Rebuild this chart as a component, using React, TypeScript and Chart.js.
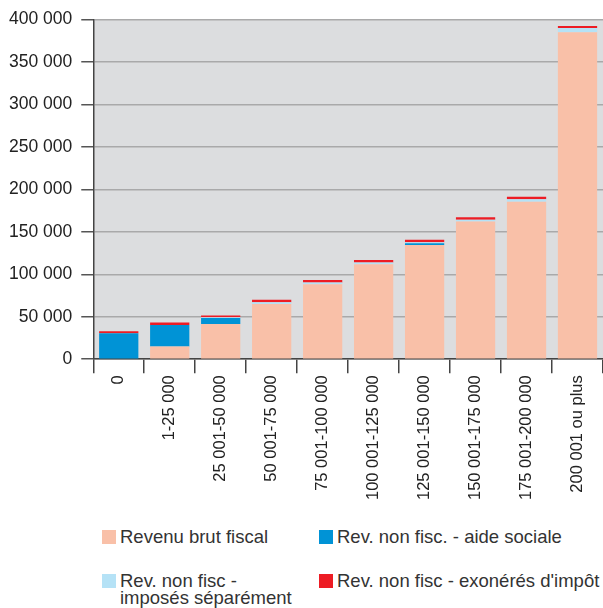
import React, { useEffect, useRef } from "react";
import { Chart, registerables } from "chart.js";

Chart.register(...registerables);

const categories = [
  "0",
  "1-25 000",
  "25 001-50 000",
  "50 001-75 000",
  "75 001-100 000",
  "100 001-125 000",
  "125 001-150 000",
  "150 001-175 000",
  "175 001-200 000",
  "200 001 ou plus",
];

const revenuBrutFiscal = [0, 15000, 41400, 65000, 88300, 111800, 134500, 162200, 185300, 385100];
const aideSociale = [30500, 25300, 7000, 0, 0, 0, 2000, 0, 0, 0];
const imposesSeparement = [0, 0, 1000, 2000, 2000, 2000, 1200, 2000, 3000, 5000];
const exoneres = [2500, 3000, 2200, 3000, 3000, 3000, 3000, 3000, 3000, 2300];

const yTicks = [0, 50000, 100000, 150000, 200000, 250000, 300000, 350000, 400000];

const legendItems = [
  { label: "Revenu brut fiscal", color: "#f9c0a8" },
  { label: "Rev. non fisc. - aide sociale", color: "#0093d6" },
  { label: "Rev. non fisc -\nimposés séparément", color: "#b5e2f6" },
  { label: "Rev. non fisc - exonérés d'impôt", color: "#ed1c24" },
];

const fmt = (v: number) => {
  const s = String(Math.round(v));
  return s.replace(/\B(?=(\d{3})+(?!\d))/g, " ");
};

const bgPlugin = {
  id: "plotBg",
  beforeDraw(chart: any) {
    const { ctx, chartArea } = chart;
    if (!chartArea) return;
    ctx.save();
    ctx.fillStyle = "#dcdddf";
    ctx.fillRect(chartArea.left, chartArea.top, chartArea.right - chartArea.left, chartArea.bottom - chartArea.top);
    ctx.restore();
  },
};

export default function App() {
  const ref = useRef<HTMLCanvasElement | null>(null);

  useEffect(() => {
    if (!ref.current) return;
    const font = "'Liberation Sans', Arial, sans-serif";
    const chart = new Chart(ref.current, {
      type: "bar",
      data: {
        labels: categories,
        datasets: [
          { label: legendItems[0].label, data: revenuBrutFiscal, backgroundColor: legendItems[0].color },
          { label: legendItems[1].label, data: aideSociale, backgroundColor: legendItems[1].color },
          { label: legendItems[2].label, data: imposesSeparement, backgroundColor: legendItems[2].color },
          { label: legendItems[3].label, data: exoneres, backgroundColor: legendItems[3].color },
        ],
      },
      options: {
        animation: false,
        responsive: false,
        maintainAspectRatio: false,
        layout: { padding: { top: 4, right: 0, left: 0, bottom: 0 } },
        datasets: { bar: { barPercentage: 0.77, categoryPercentage: 1 } },
        plugins: { legend: { display: false }, tooltip: { enabled: false } },
        scales: {
          x: {
            stacked: true,
            grid: {
              offset: true,
              drawOnChartArea: false,
              drawTicks: true,
              tickLength: 14,
              tickColor: "#444",
              lineWidth: 1.5,
            },
            border: { color: "#444", width: 1.5 },
            ticks: {
              minRotation: 90,
              maxRotation: 90,
              autoSkip: false,
              padding: 2,
              color: "#222",
              font: { family: font, size: 16.5 },
            },
          },
          y: {
            stacked: true,
            min: 0,
            max: 400000,
            afterBuildTicks: (axis: any) => {
              axis.ticks = yTicks.map((v) => ({ value: v }));
            },
            grid: {
              color: "#a9a9aa",
              lineWidth: 1.5,
              drawTicks: true,
              tickLength: 12,
              tickColor: "#555",
            },
            border: { color: "#444", width: 1.5 },
            ticks: {
              padding: 9,
              color: "#222",
              font: { family: font, size: 17.5 },
              callback: (v: any) => fmt(Number(v)),
            },
          },
        },
      },
      plugins: [bgPlugin],
    });
    return () => chart.destroy();
  }, []);

  const font = "'Liberation Sans', Arial, sans-serif";
  const pos = [
    { left: 102, top: 528 },
    { left: 319, top: 528 },
    { left: 102, top: 572 },
    { left: 319, top: 572 },
  ];

  return (
    <div style={{ position: "absolute", left: 0, top: 0, width: 603, height: 608, background: "#fff", overflow: "hidden" }}>
      <canvas ref={ref} width={603} height={502} style={{ display: "block" }} />
      {legendItems.map((it, i) => (
        <div key={i} style={{ position: "absolute", left: pos[i].left, top: pos[i].top, display: "flex", alignItems: "flex-start" }}>
          <div style={{ width: 14, height: 14, background: it.color, marginTop: 2, marginRight: 4 }} />
          <div style={{ fontFamily: font, fontSize: 18.5, color: "#333", lineHeight: "17px", whiteSpace: "pre" }}>{it.label}</div>
        </div>
      ))}
    </div>
  );
}
